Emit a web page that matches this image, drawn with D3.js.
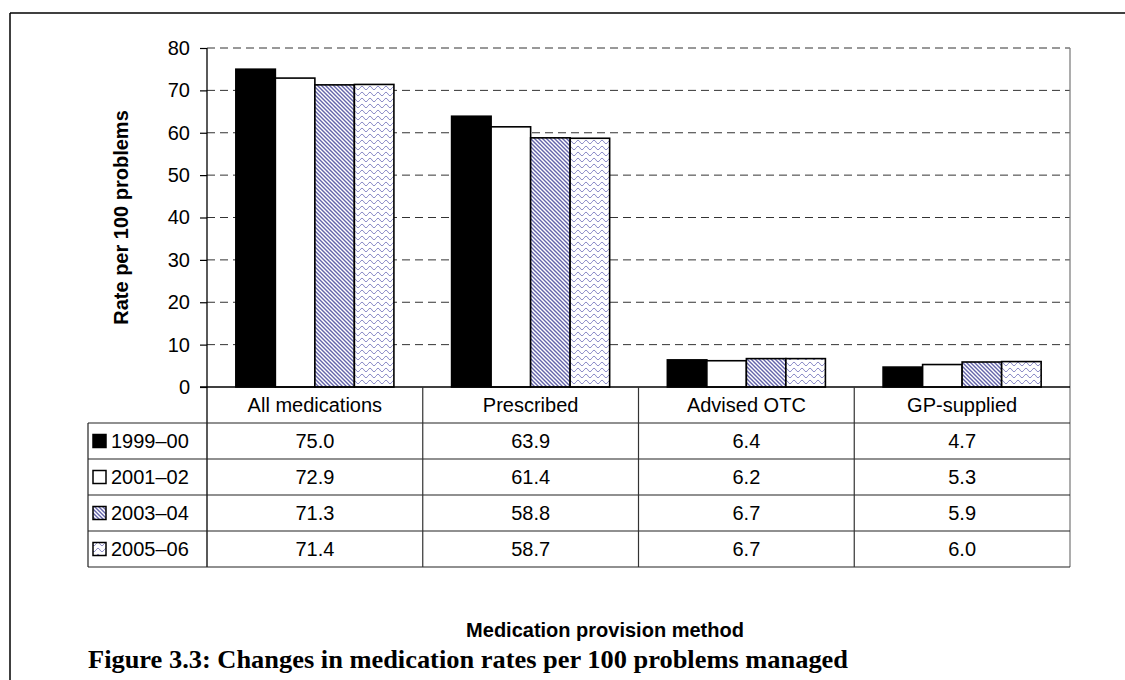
<!DOCTYPE html>
<html><head><meta charset="utf-8">
<script src="https://cdn.jsdelivr.net/npm/d3@7"></script>
<style>html,body{margin:0;padding:0;background:#fff;}svg{display:block;}</style>
</head><body>
<script>
const categories = ["All medications", "Prescribed", "Advised OTC", "GP-supplied"];
const seriesNames = ["1999–00", "2001–02", "2003–04", "2005–06"];
const s1999 = [75.0, 63.9, 6.4, 4.7];
const s2001 = [72.9, 61.4, 6.2, 5.3];
const s2003 = [71.3, 58.8, 6.7, 5.9];
const s2005 = [71.4, 58.7, 6.7, 6.0];
const yTicks = [0, 10, 20, 30, 40, 50, 60, 70, 80];
const seriesValues = [s1999, s2001, s2003, s2005];

const W = 1125, H = 680;
const svg = d3.select("body").append("svg").attr("width", W).attr("height", H);
const defs = svg.append("defs");

// patterns
const hatch = defs.append("pattern").attr("id", "hatch").attr("patternUnits", "userSpaceOnUse")
  .attr("width", 4).attr("height", 4);
hatch.append("rect").attr("width", 4).attr("height", 4).attr("fill", "#fff");
hatch.append("path").attr("d", "M-1,-1 L5,5 M-1,3 L1,5 M3,-1 L5,1")
  .attr("stroke", "#6464aa").attr("stroke-width", 1.4);

const wave = defs.append("pattern").attr("id", "wave").attr("patternUnits", "userSpaceOnUse")
  .attr("width", 8).attr("height", 6);
wave.append("rect").attr("width", 8).attr("height", 6).attr("fill", "#fff");
wave.append("path").attr("d", "M0,4 Q2,0.5 4,4 T8,4")
  .attr("fill", "none").attr("stroke", "#8c8cc8").attr("stroke-width", 1);

const fills = ["#000", "#fff", "url(#hatch)", "url(#wave)"];

const pLeft = 207, pRight = 1070, pTop = 48, pBottom = 387;
const x = d3.scaleBand().domain(categories).range([pLeft, pRight]).padding(0);
const xs = d3.scaleBand().domain(seriesNames).range([0, x.bandwidth()]).paddingInner(0).paddingOuter(0.73);
const y = d3.scaleLinear().domain([0, 80]).range([pBottom, pTop]);

// outer frame (top & left)
svg.append("line").attr("x1", 10).attr("x2", W).attr("y1", 13).attr("y2", 13).attr("stroke", "#000").attr("stroke-width", 1.5);
svg.append("line").attr("x1", 10).attr("x2", 10).attr("y1", 13).attr("y2", H).attr("stroke", "#000").attr("stroke-width", 1.5);

// gridlines
svg.append("g").selectAll("line").data(yTicks.filter(d => d > 0)).join("line")
  .attr("x1", pLeft).attr("x2", pRight).attr("y1", d => y(d)).attr("y2", d => y(d))
  .attr("stroke", "#333").attr("stroke-width", 1).attr("stroke-dasharray", "8,5");
// right border
svg.append("line").attr("x1", pRight).attr("x2", pRight).attr("y1", pTop).attr("y2", 567).attr("stroke", "#808080").attr("stroke-width", 1.3);

// y axis
const yAxis = d3.axisLeft(y).tickValues(yTicks).tickSize(7).tickPadding(10).tickFormat(d3.format("d"));
const ya = svg.append("g").attr("transform", `translate(${pLeft},0)`).call(yAxis);
ya.select(".domain").remove();
ya.selectAll(".tick line").attr("stroke", "#000").attr("stroke-width", 1.2);
ya.selectAll(".tick text").attr("font-family", "Liberation Sans, Arial, sans-serif").attr("font-size", 20).attr("fill", "#000");
svg.append("line").attr("x1", pLeft).attr("x2", pLeft).attr("y1", pTop).attr("y2", 567).attr("stroke", "#000").attr("stroke-width", 1.3);

// bars
seriesValues.forEach((vals, si) => {
  svg.append("g").selectAll("rect").data(vals).join("rect")
    .attr("x", (d, i) => x(categories[i]) + xs(seriesNames[si]))
    .attr("width", xs.bandwidth())
    .attr("y", d => y(d))
    .attr("height", d => y(0) - y(d))
    .attr("fill", fills[si])
    .attr("stroke", "#000").attr("stroke-width", 1.6);
});

// x baseline
svg.append("line").attr("x1", 200).attr("x2", pRight).attr("y1", pBottom).attr("y2", pBottom).attr("stroke", "#000").attr("stroke-width", 1.5);

// table
const rowTop = 423, rowH = 36, tableLeft = 88;
const font = "Liberation Sans, Arial, sans-serif";
for (let r = 0; r <= 4; r++) {
  svg.append("line").attr("x1", tableLeft).attr("x2", pRight).attr("y1", rowTop + r * rowH).attr("y2", rowTop + r * rowH)
    .attr("stroke", "#222").attr("stroke-width", 1.2);
}
svg.append("line").attr("x1", tableLeft).attr("x2", tableLeft).attr("y1", rowTop).attr("y2", rowTop + 4 * rowH).attr("stroke", "#222").attr("stroke-width", 1.2);
categories.forEach((c, i) => {
  if (i > 0) svg.append("line").attr("x1", x(c)).attr("x2", x(c)).attr("y1", pBottom).attr("y2", rowTop + 4 * rowH)
    .attr("stroke", "#333").attr("stroke-width", 1.2);
});
svg.append("g").selectAll("text").data(categories).join("text")
  .attr("x", d => x(d) + x.bandwidth() / 2).attr("y", (pBottom + rowTop) / 2 + 7)
  .attr("text-anchor", "middle").attr("font-family", font).attr("font-size", 20).text(d => d);
seriesNames.forEach((name, si) => {
  const cy = rowTop + si * rowH + rowH / 2;
  svg.append("rect").attr("x", 93).attr("y", cy - 6.5).attr("width", 13).attr("height", 13)
    .attr("fill", fills[si]).attr("stroke", "#000").attr("stroke-width", 1.5);
  svg.append("text").attr("x", 111).attr("y", cy + 7).attr("font-family", font).attr("font-size", 20).text(name);
  svg.append("g").selectAll("text").data(seriesValues[si]).join("text")
    .attr("x", (d, i) => x(categories[i]) + x.bandwidth() / 2).attr("y", cy + 7)
    .attr("text-anchor", "middle").attr("font-family", font).attr("font-size", 20)
    .text(d => d3.format(".1f")(d));
});

// axis titles
svg.append("text").attr("transform", `translate(128,${(pTop + pBottom) / 2}) rotate(-90)`)
  .attr("text-anchor", "middle").attr("font-family", font).attr("font-weight", "bold").attr("font-size", 20)
  .text("Rate per 100 problems");
svg.append("text").attr("x", 605).attr("y", 637).attr("text-anchor", "middle")
  .attr("font-family", font).attr("font-weight", "bold").attr("font-size", 20)
  .text("Medication provision method");
svg.append("text").attr("x", 88).attr("y", 668)
  .attr("font-family", "Liberation Serif, serif").attr("font-weight", "bold").attr("font-size", 25)
  .attr("textLength", 760).attr("lengthAdjust", "spacingAndGlyphs")
  .text("Figure 3.3: Changes in medication rates per 100 problems managed");
</script>
</body></html>
